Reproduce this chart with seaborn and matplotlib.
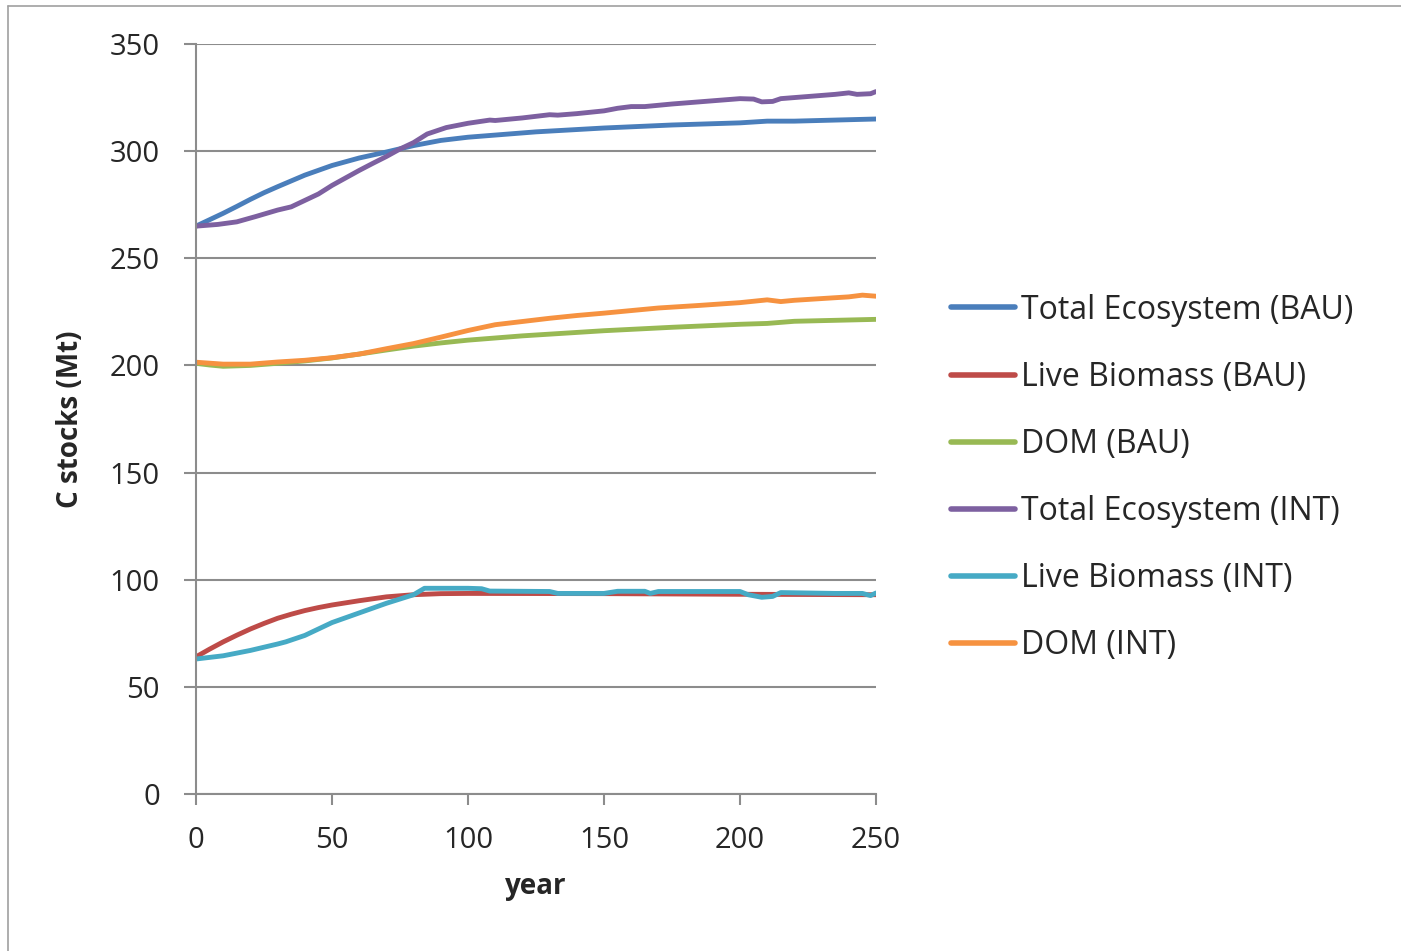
import matplotlib
matplotlib.use("Agg")
import matplotlib.pyplot as plt
import seaborn as sns
import pandas as pd
from matplotlib.lines import Line2D

# ---- data (C stocks in Mt by simulation year) ----
years_total_bau = [0, 5, 10, 15, 20, 25, 30, 40, 50, 60, 70, 80, 90, 100, 125, 150, 175, 200, 210, 220, 250]
total_bau = [265, 268, 271, 274.2, 277.5, 280.6, 283.4, 288.8, 293.3, 296.8, 299.6, 302.6, 305, 306.5, 309,
             310.8, 312.2, 313.2, 314, 314, 315]

years_total_int = [0, 8, 15, 22, 30, 35, 40, 45, 50, 55, 60, 65, 70, 75, 80, 85, 92, 100, 108, 110, 120, 130,
                   133, 140, 150, 155, 160, 165, 175, 190, 200, 205, 208, 212, 215, 225, 235, 240, 243, 248, 250]
total_int = [265, 265.8, 267, 269.5, 272.5, 274, 277, 280, 284, 287.5, 291, 294.3, 297.5, 301, 304, 308, 311,
             313, 314.5, 314.3, 315.5, 317, 316.8, 317.5, 318.8, 320, 320.8, 320.8, 322, 323.5, 324.5, 324.3,
             323, 323.2, 324.5, 325.5, 326.5, 327.2, 326.5, 326.8, 327.8]

years_live_bau = [0, 5, 10, 15, 20, 25, 30, 35, 40, 45, 50, 60, 70, 80, 90, 100, 150, 200, 250]
live_bau = [64, 67.6, 71, 74.1, 77, 79.6, 82, 83.9, 85.6, 87, 88.2, 90.2, 92, 93, 93.5, 93.6, 93.5, 93.2, 93]

years_live_int = [0, 10, 20, 30, 33, 40, 45, 50, 60, 70, 75, 80, 84, 90, 100, 105, 108, 130, 133, 150, 155, 165,
                  167, 170, 200, 203, 208, 212, 215, 235, 245, 248, 250]
live_int = [63, 64.5, 67, 70, 71, 74, 77, 80, 84.5, 89, 91, 93, 96, 96, 96, 95.8, 94.7, 94.5, 93.6, 93.6, 94.6,
            94.6, 93.6, 94.5, 94.5, 93, 91.8, 92.2, 94, 93.6, 93.6, 92.6, 93.8]

years_dom_bau = [0, 5, 10, 20, 30, 40, 50, 60, 70, 80, 90, 100, 120, 150, 175, 200, 210, 220, 250]
dom_bau = [201, 200.2, 199.6, 200, 201, 202.1, 203.5, 205.3, 207.2, 209, 210.5, 211.8, 213.8, 216.2, 217.8,
           219.2, 219.6, 220.6, 221.5]

years_dom_int = [0, 10, 20, 30, 40, 50, 60, 70, 80, 90, 100, 110, 120, 130, 140, 150, 160, 170, 185, 200, 210,
                 215, 220, 230, 240, 245, 250]
dom_int = [201.5, 200.6, 200.6, 201.6, 202.4, 203.6, 205.3, 207.8, 210.2, 213.2, 216.3, 219, 220.5, 222, 223.3,
           224.4, 225.6, 226.8, 228, 229.3, 230.6, 229.8, 230.4, 231.2, 232, 232.8, 232.3]

series_names = ["Total Ecosystem (BAU)", "Live Biomass (BAU)", "DOM (BAU)",
                "Total Ecosystem (INT)", "Live Biomass (INT)", "DOM (INT)"]
series_years = [years_total_bau, years_live_bau, years_dom_bau, years_total_int, years_live_int, years_dom_int]
series_vals = [total_bau, live_bau, dom_bau, total_int, live_int, dom_int]
colors = ["#4A7EBB", "#BE4B48", "#98B954", "#7D60A0", "#46AAC5", "#F69240"]

frames = [pd.DataFrame({"year": y, "C": v, "series": n})
          for n, y, v in zip(series_names, series_years, series_vals)]
df = pd.concat(frames, ignore_index=True)

sns.set_theme(style="white")
plt.rcParams["font.family"] = ["Open Sans", "DejaVu Sans"]

fig = plt.figure(figsize=(14.01, 9.51), dpi=100)
ax = fig.add_axes([196 / 1401, 1 - 794 / 951, 680 / 1401, 750 / 951])

sns.lineplot(data=df, x="year", y="C", hue="series", hue_order=series_names,
             palette=colors, linewidth=3.5, ax=ax, legend=False, sort=True,
             estimator=None)
for ln in ax.get_lines():
    ln.set_solid_capstyle("round")
    ln.set_solid_joinstyle("round")

grid_c = "#8C8C8C"
ax.set_xlim(0, 250)
ax.set_ylim(0, 350)
ax.set_xticks(range(0, 251, 50))
ax.set_yticks(range(0, 351, 50))
ax.yaxis.grid(True, color=grid_c, linewidth=1.5)
ax.xaxis.grid(False)
ax.set_axisbelow(True)
for side in ["top", "right"]:
    ax.spines[side].set_visible(False)
for side in ["left", "bottom"]:
    ax.spines[side].set_color(grid_c)
    ax.spines[side].set_linewidth(1.5)

ax.tick_params(axis="y", which="major", direction="out", length=9, width=1.5, color=grid_c,
               pad=17, labelsize=21, labelcolor="#262626", left=True)
ax.tick_params(axis="x", which="major", direction="out", length=8, width=1.5, color=grid_c,
               pad=15, labelsize=21, labelcolor="#262626", bottom=True)

ax.set_xlabel("year", fontsize=20, fontweight="bold", labelpad=12, color="#262626")
ax.set_ylabel("C stocks (Mt)", fontsize=20, fontweight="bold", labelpad=18, color="#262626")

handles = [Line2D([0], [0], color=c, linewidth=4, solid_capstyle="round") for c in colors]
fig.legend(handles, series_names, loc="center left", bbox_to_anchor=(951 / 1401, 1 - 478 / 951),
           frameon=False, fontsize=23, handlelength=2.0, handletextpad=0.2, labelspacing=1.07,
           borderpad=0, borderaxespad=0, labelcolor="#262626")

# thin chart-area frame along the top and left edges
fig.add_artist(Line2D([8 / 1401, 1], [1 - 6 / 951, 1 - 6 / 951], color="#A0A0A0", linewidth=1.2,
                      transform=fig.transFigure))
fig.add_artist(Line2D([8 / 1401, 8 / 1401], [0, 1 - 6 / 951], color="#A0A0A0", linewidth=1.2,
                      transform=fig.transFigure))

fig.savefig("out.png", dpi=100, facecolor="white")
